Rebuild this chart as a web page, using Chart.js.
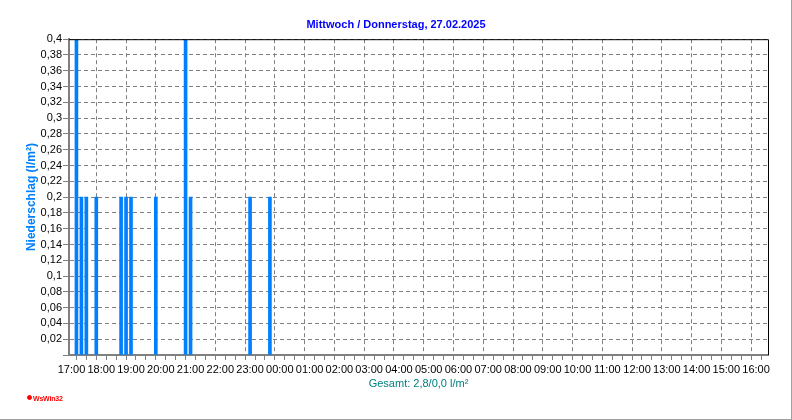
<!DOCTYPE html>
<html>
<head>
<meta charset="utf-8">
<title>Niederschlag</title>
<script src="https://cdn.jsdelivr.net/npm/chart.js@4"></script>
<style>
  html, body { margin: 0; padding: 0; background: #fff; }
  #wrap { position: relative; width: 791px; height: 419px; border-right: 1px solid #a0a0a0; border-bottom: 1px solid #a0a0a0; }
  canvas { display: block; }
  #brand { position: absolute; left: 27px; top: 394px; color: #ff0000; font: bold 7px "Liberation Sans", sans-serif; letter-spacing: -0.2px; line-height: 10px; }
  #brand i { display: inline-block; width: 3px; height: 3px; border: 1px solid #ff0000; background: #ff0000; border-radius: 50%; margin-right: 1px; vertical-align: 1px; }
</style>
</head>
<body>
<div id="wrap">
  <canvas id="rainChart" width="791" height="419"></canvas>
  <div id="brand"><i></i>WsWin32</div>
</div>
<script>
const chartTitle = "Mittwoch / Donnerstag, 27.02.2025";
const yTitle = "Niederschlag (l/m²)";
const totalText = "Gesamt: 2,8/0,0 l/m²";
const hourLabels = ["17:00", "18:00", "19:00", "20:00", "21:00", "22:00", "23:00", "00:00",
  "01:00", "02:00", "03:00", "04:00", "05:00", "06:00", "07:00", "08:00",
  "09:00", "10:00", "11:00", "12:00", "13:00", "14:00", "15:00", "16:00"];
// minutes after 17:00
const rainMinutes = [10, 20, 30, 50, 100, 110, 120, 170, 230, 240, 360, 400];
const rainValues = [0.4, 0.2, 0.2, 0.2, 0.2, 0.2, 0.2, 0.2, 0.4, 0.2, 0.2, 0.2];

const GREY = "#808080";

// black line on top and right of the plot
const frame = {
  id: "frame",
  afterDraw(chart) {
    const a = chart.chartArea;
    const c = chart.ctx;
    c.save();
    c.strokeStyle = "#000";
    c.lineWidth = 1;
    c.beginPath();
    c.moveTo(a.left, a.top + 0.5);
    c.lineTo(a.right + 0.5, a.top + 0.5);
    c.lineTo(a.right + 0.5, a.bottom);
    c.stroke();
    c.restore();
  }
};

new Chart(document.getElementById("rainChart"), {
  type: "bar",
  data: {
    datasets: [{
      data: rainMinutes.map((m, i) => ({ x: m, y: rainValues[i] })),
      backgroundColor: "#0080ff",
      barThickness: 3
    }]
  },
  plugins: [frame],
  options: {
    responsive: false,
    animation: false,
    layout: { padding: { left: 24, right: 23, bottom: 28 } },
    plugins: {
      legend: { display: false },
      tooltip: { enabled: false },
      title: {
        display: true,
        text: chartTitle,
        color: "#0000ff",
        font: { family: "Liberation Sans", size: 11, weight: "bold" },
        padding: { top: 18, bottom: 8 }
      }
    },
    scales: {
      x: {
        type: "linear",
        offset: false,
        min: -5,
        max: 1404,
        afterBuildTicks(axis) {
          const t = [];
          for (let m = 0; m <= 1380; m += 20) t.push({ value: m });
          axis.ticks = t;
        },
        afterFit(axis) { axis.height = 36; },
        ticks: {
          autoSkip: false,
          maxRotation: 0,
          padding: 3,
          color: "#000",
          font: { family: "Liberation Sans", size: 11 },
          callback: v => (v % 60 === 0 ? hourLabels[v / 60] : "")
        },
        grid: {
          color: c => (c.tick && c.tick.value % 60 === 0 ? GREY : "transparent"),
          tickColor: GREY,
          tickBorderDash: [],
          tickLength: 5,
          lineWidth: 1,
          drawOnChartArea: true
        },
        border: { color: GREY, width: 2, dash: [4, 3] },
        title: {
          display: true,
          text: totalText,
          color: "#008080",
          font: { family: "Liberation Sans", size: 11 },
          padding: { top: 0, bottom: 0 }
        }
      },
      y: {
        min: 0,
        max: 0.4,
        afterFit(axis) { axis.width = 45; },
        ticks: {
          autoSkip: false,
          stepSize: 0.02,
          padding: 1,
          color: "#000",
          font: { family: "Liberation Sans", size: 11 },
          callback: v => (v === 0 ? "" : String(Math.round(v * 100) / 100).replace(".", ","))
        },
        grid: {
          color: GREY,
          tickColor: GREY,
          tickBorderDash: [],
          tickLength: 6
        },
        border: { color: GREY, width: 2, dash: [4, 3] },
        title: {
          display: true,
          text: yTitle,
          color: "#0080ff",
          font: { family: "Liberation Sans", size: 12, weight: "bold" },
          padding: { top: 0, bottom: 0 }
        }
      }
    }
  }
});
</script>
</body>
</html>
